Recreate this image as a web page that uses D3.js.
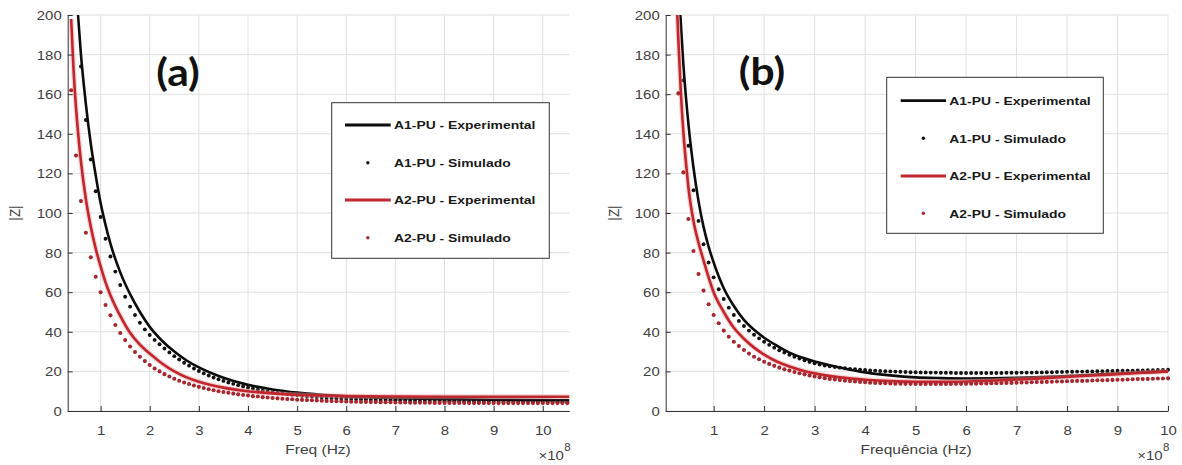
<!DOCTYPE html>
<html>
<head>
<meta charset="utf-8">
<script src="https://cdn.jsdelivr.net/npm/d3@7"></script>
<style>
  html, body { margin: 0; padding: 0; background: #fff; }
  svg { display: block; }
</style>
</head>
<body>
<svg id="chart" width="1182" height="465"></svg>
<script>
// Impedance magnitude |Z| vs frequency (x10^8 Hz) for samples A1-PU and A2-PU
const freqTicks = [1, 2, 3, 4, 5, 6, 7, 8, 9, 10];
const zTicks = [0, 20, 40, 60, 80, 100, 120, 140, 160, 180, 200];
const seriesNames = ["A1-PU - Experimental", "A1-PU - Simulado", "A2-PU - Experimental", "A2-PU - Simulado"];
const panelTitles = ["(a)", "(b)"];
const xLabels = ["Freq (Hz)", "Frequência (Hz)"];
const yLabel = "|Z|";

// ---- Panel (a) ----
// measured curves: [frequency x1e8 Hz, |Z|]
const a_A1exp = [[0.54,200],[0.6,180],[0.7,155],[0.8,135],[0.9,119],[1.0,105],[1.1,94],[1.2,84.5],[1.4,70],[1.6,59],[1.8,50],[2.0,42.5],[2.25,35.5],[2.5,30],[2.75,25.5],[3.0,22],[3.5,16.8],[4.0,13.2],[4.5,10.9],[5.0,9.3],[5.5,8.2],[6,7.4],[7,6.5],[8,6.0],[9,5.7],[10,5.5],[10.54,5.4]];
const a_A2exp = [[0.4,198],[0.45,172],[0.5,153],[0.6,126],[0.7,107],[0.8,93],[0.9,82],[1.0,73],[1.1,65],[1.2,58.5],[1.4,48],[1.6,39.5],[1.8,33.5],[2.0,29],[2.25,24],[2.5,20],[2.75,17],[3.0,14.8],[3.5,11.8],[4.0,10],[4.5,8.9],[5.0,8.2],[5.5,7.8],[6,7.5],[7,7.3],[8,7.2],[9,7.2],[10,7.2],[10.54,7.2]];
// simulated sweeps: first frequency, step (x1e8 Hz) and |Z| values
const a_A1simStart = 0.6, a_A2simStart = 0.4, simStep = 0.1;
const a_A1sim = [174,147,127,111,98,87,78,70.4,63.6,57.7,52.7,48.5,44.6,41.2,38.4,35.9,33.7,31.6,29.6,27.7,
  26.0,24.4,22.9,21.5,20.2,19.0,17.9,16.9,16.0,15.2,14.4,13.7,13.0,12.4,11.8,11.3,10.8,10.3,9.9,9.5,
  9.1,8.8,8.5,8.2,7.9,7.7,7.5,7.3,7.1,6.9,6.7,6.6,6.4,6.3,6.2,6.1,6.0,5.9,5.8,5.7,
  5.6,5.6,5.5,5.4,5.4,5.3,5.3,5.2,5.2,5.1,5.1,5.0,5.0,5.0,4.9,4.9,4.9,4.8,4.8,4.8,
  4.8,4.7,4.7,4.7,4.7,4.6,4.6,4.6,4.6,4.6,4.5,4.5,4.5,4.5,4.5,4.5,4.5,4.4,4.4,4.4];
const a_A2sim = [162,129,106,90,77.6,67.8,60,53.5,48.3,43.4,39.4,35.8,32.6,29.8,27.4,25.2,23.2,21.5,20.0,18.6,
  17.4,16.3,15.3,14.4,13.6,12.9,12.2,11.6,11.0,10.5,10.0,9.6,9.2,8.8,8.4,8.1,7.8,7.5,7.3,7.0,
  6.8,6.6,6.4,6.2,6.0,5.9,5.7,5.6,5.5,5.4,5.3,5.2,5.1,5.0,4.9,4.9,4.8,4.7,4.7,4.6,
  4.6,4.5,4.5,4.4,4.4,4.4,4.3,4.3,4.3,4.2,4.2,4.2,4.2,4.2,4.1,4.1,4.1,4.1,4.1,4.1,
  4.1,4.0,4.0,4.0,4.0,4.0,4.0,4.0,4.0,4.0,4.0,4.0,4.0,4.0,4.0,4.0,4.0,4.0,4.0,4.0,4.0,4.0];

// ---- Panel (b) ----
const b_A1exp = [[0.34,200],[0.4,175],[0.5,145],[0.6,123],[0.7,106],[0.8,93],[0.9,83],[1.0,75],[1.2,62],[1.4,53],[1.6,46],[1.8,41],[2.0,37],[2.25,33],[2.5,29.5],[2.75,27],[3.0,25],[3.5,22],[4,19.5],[4.5,18],[5,17],[5.5,16.6],[6,16.4],[6.5,16.5],[7,16.8],[7.5,17.2],[8,17.7],[8.5,18.3],[9,18.9],[9.5,19.5],[10,20]];
const b_A2exp = [[0.28,200],[0.3,188],[0.35,161],[0.4,141],[0.47,120.5],[0.5,113],[0.6,96],[0.7,85],[0.8,76],[0.9,67.5],[1.0,60],[1.2,50],[1.4,42],[1.6,36.5],[1.8,32],[2.0,28.5],[2.25,25],[2.5,22.5],[2.75,20.5],[3.0,19],[3.5,17],[4,15.8],[4.5,15.1],[5,14.8],[5.5,14.7],[6,14.9],[6.5,15.3],[7,15.9],[7.5,16.5],[8,17.2],[8.5,17.9],[9,18.6],[9.5,19.3],[10,20]];
const b_A1simStart = 0.4, b_A2simStart = 0.3;
const b_A1sim = [167,134,111.5,96,84.2,75,67.5,61.5,56.6,52.2,48.5,45.5,42.9,40.6,38.5,36.7,35.0,33.4,32.0,30.7,
  29.5,28.4,27.4,26.5,25.6,24.8,24.1,23.5,23.0,22.6,22.2,21.9,21.6,21.3,21.1,20.9,20.7,20.5,20.4,20.2,
  20.1,20.0,19.9,19.8,19.7,19.6,19.6,19.5,19.5,19.4,19.4,19.3,19.3,19.3,19.2,19.2,19.2,19.2,19.2,19.2,
  19.2,19.2,19.2,19.2,19.3,19.3,19.3,19.4,19.4,19.4,19.5,19.5,19.6,19.6,19.7,19.7,19.8,19.8,19.9,19.9,
  20.0,20.0,20.1,20.1,20.2,20.2,20.3,20.3,20.4,20.4,20.5,20.5,20.6,20.6,20.7,20.7,20.8];
const b_A2sim = [160.4,120.5,97,80.8,69.2,60.8,53.9,48.5,44.3,40.6,37.5,35.0,32.8,30.8,29.0,27.4,26.1,24.9,23.8,22.8,
  21.9,21.1,20.4,19.7,19.1,18.5,17.9,17.4,17.0,16.6,16.2,15.9,15.6,15.3,15.1,14.9,14.7,14.5,14.3,14.2,
  14.1,14.0,13.9,13.8,13.8,13.7,13.7,13.6,13.6,13.6,13.6,13.6,13.6,13.6,13.6,13.7,13.7,13.7,13.8,13.8,
  13.9,13.9,14.0,14.0,14.1,14.2,14.2,14.3,14.4,14.4,14.5,14.6,14.6,14.7,14.8,14.9,14.9,15.0,15.1,15.2,
  15.2,15.3,15.4,15.5,15.5,15.6,15.7,15.8,15.8,15.9,16.0,16.1,16.1,16.2,16.3,16.4,16.4,16.5];

// sweep values -> [f, z] points on the instrument's frequency grid
function sweep(start, values) {
  return values.map((z, i) => [+(start + i * simStep).toFixed(2), z]);
}

const COLORS = { black: "#0c0c0c", red: "#c0262d", redDot: "#a8262f", blackDot: "#111111" };
const SX = 1.15; // horizontal text stretch
const FONT = "'Liberation Sans', Arial, Helvetica, sans-serif";

const panels = [
  { left: 67.7, right: 569.3, top: 15, bottom: 411, xDomain: [0.33, 10.54],
    title: panelTitles[0], titleX: 178, titleY: 86, xLabel: xLabels[0], xLabelX: 318, yLabelX: 20,
    A1exp: a_A1exp, A2exp: a_A2exp, A1sim: sweep(a_A1simStart, a_A1sim), A2sim: sweep(a_A2simStart, a_A2sim),
    legend: { x0: 331.7, x1: 549.3, y0: 102.7, y1: 258.3, rows: [125, 162.7, 200, 237.7], lx0: 345, lx1: 390.7, tx: 394 } },
  { left: 665.7, right: 1168, top: 15, bottom: 411, xDomain: [0.05, 10],
    title: panelTitles[1], titleX: 762, titleY: 85, xLabel: xLabels[1], xLabelX: 916, yLabelX: 619,
    A1exp: b_A1exp, A2exp: b_A2exp, A1sim: sweep(b_A1simStart, b_A1sim), A2sim: sweep(b_A2simStart, b_A2sim),
    legend: { x0: 886.7, x1: 1103.3, y0: 77.3, y1: 233.3, rows: [100.7, 138.3, 176, 213.3], lx0: 900.7, lx1: 946, tx: 949.3 } }
];

const svg = d3.select("#chart");

function stretchText(g, x, y, str, size, opts = {}) {
  return g.append("text")
    .attr("transform", `translate(${x},${y}) scale(${opts.sx || SX},1)`)
    .attr("text-anchor", opts.anchor || "start")
    .attr("font-family", opts.family || FONT)
    .attr("font-weight", opts.weight || "normal")
    .attr("font-size", size)
    .attr("fill", opts.fill || "#404040")
    .text(str);
}

panels.forEach((p, pi) => {
  const g = svg.append("g");
  const x = d3.scaleLinear().domain(p.xDomain).range([p.left, p.right]);
  const y = d3.scaleLinear().domain([0, 200]).range([p.bottom, p.top]);

  // grid
  const grid = g.append("g").attr("stroke", "#e0e0e0").attr("stroke-width", 1);
  grid.selectAll("line.v").data(freqTicks).join("line")
    .attr("x1", d => x(d)).attr("x2", d => x(d)).attr("y1", p.top).attr("y2", p.bottom);
  grid.selectAll("line.h").data(zTicks).join("line")
    .attr("x1", p.left).attr("x2", p.right).attr("y1", d => y(d)).attr("y2", d => y(d));

  // clip to plot area
  const clipId = "clip" + pi;
  svg.append("clipPath").attr("id", clipId).append("rect")
    .attr("x", p.left).attr("y", p.top - 2).attr("width", p.right - p.left + 2).attr("height", p.bottom - p.top + 2);
  const plot = g.append("g").attr("clip-path", `url(#${clipId})`);

  const line = d3.line().x(d => x(d[0])).y(d => y(d[1])).curve(d3.curveMonotoneX);

  // A1 experimental
  plot.append("path").datum(p.A1exp).attr("d", line)
    .attr("fill", "none").attr("stroke", COLORS.black).attr("stroke-width", 2.6);
  // A1 simulated
  plot.append("g").selectAll("circle").data(p.A1sim).join("circle")
    .attr("cx", d => x(d[0])).attr("cy", d => y(d[1])).attr("r", 1.95).attr("fill", COLORS.blackDot);
  // A2 experimental (soft halo under the red trace)
  plot.append("path").datum(p.A2exp).attr("d", line)
    .attr("fill", "none").attr("stroke", "#ef9a9a").attr("stroke-opacity", 0.45).attr("stroke-width", 5);
  plot.append("path").datum(p.A2exp).attr("d", line)
    .attr("fill", "none").attr("stroke", COLORS.red).attr("stroke-width", 2.6);
  // A2 simulated
  plot.append("g").selectAll("circle").data(p.A2sim).join("circle")
    .attr("cx", d => x(d[0])).attr("cy", d => y(d[1])).attr("r", 2.05).attr("fill", COLORS.redDot);

  // axes (ticks point inward)
  const xAxis = g.append("g").attr("transform", `translate(0,${p.bottom})`)
    .call(d3.axisBottom(x).tickValues(freqTicks).tickSize(-5).tickSizeOuter(0).tickFormat(d3.format("d")));
  const yAxis = g.append("g").attr("transform", `translate(${p.left},0)`)
    .call(d3.axisLeft(y).tickValues(zTicks).tickSize(-5).tickSizeOuter(0).tickFormat(d3.format("d")));
  [xAxis, yAxis].forEach(ax => {
    ax.select(".domain").attr("stroke", "#333");
    ax.selectAll(".tick line").attr("stroke", "#333");
    ax.selectAll(".tick text").attr("fill", "#404040").attr("font-family", FONT).attr("font-size", 13);
  });
  xAxis.selectAll(".tick text").attr("y", 24).attr("dy", null).attr("transform", `scale(${SX},1)`);
  yAxis.selectAll(".tick text").attr("x", -6 / SX).attr("dy", "0.35em").attr("transform", `scale(${SX},1)`);

  // axis labels
  stretchText(g, p.xLabelX, 454, p.xLabel, 13.5, { anchor: "middle" });
  g.append("text")
    .attr("transform", `translate(${p.yLabelX},${(p.top + p.bottom) / 2}) rotate(-90) scale(1,${SX})`)
    .attr("text-anchor", "middle").attr("font-family", FONT).attr("font-size", 13.5).attr("fill", "#404040")
    .text(yLabel);
  // exponent note
  stretchText(g, p.right - 5.5, 459.5, "×10", 13, { anchor: "end" });
  stretchText(g, p.right - 5, 451, "8", 10);

  // panel tag
  stretchText(g, p.titleX, p.titleY, p.title, 38, { anchor: "middle", weight: "bold", family: "Lato, 'Open Sans', sans-serif", fill: "#111", sx: 1.12 });

  // legend
  const L = p.legend;
  const lg = g.append("g");
  lg.append("rect").attr("x", L.x0).attr("y", L.y0).attr("width", L.x1 - L.x0).attr("height", L.y1 - L.y0)
    .attr("fill", "#fff").attr("stroke", "#333").attr("stroke-width", 1);
  const kinds = [
    { type: "line", color: COLORS.black },
    { type: "dot", color: COLORS.blackDot },
    { type: "line", color: COLORS.red },
    { type: "dot", color: COLORS.redDot }
  ];
  kinds.forEach((k, i) => {
    const ry = L.rows[i];
    if (k.type === "line") {
      lg.append("line").attr("x1", L.lx0).attr("x2", L.lx1).attr("y1", ry).attr("y2", ry)
        .attr("stroke", k.color).attr("stroke-width", 2.8);
    } else {
      lg.append("circle").attr("cx", (L.lx0 + L.lx1) / 2).attr("cy", ry).attr("r", 1.7).attr("fill", k.color);
    }
    stretchText(lg, L.tx, ry + 4.3, seriesNames[i], 11.8, { weight: "bold", fill: "#1a1a1a", sx: 1.18 });
  });
});
</script>
</body>
</html>
